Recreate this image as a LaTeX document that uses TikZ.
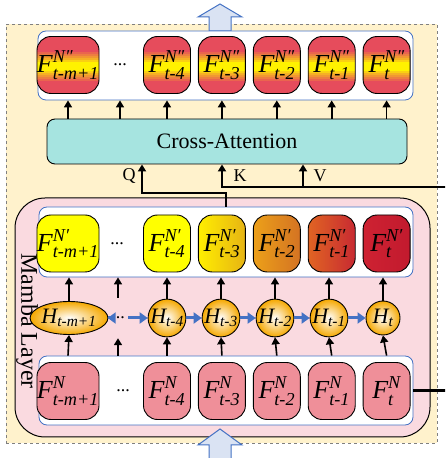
\documentclass[tikz,border=0pt]{standalone}
\usepackage{amsmath}
\usepackage{fontspec}
\setmainfont{Liberation Serif}
\usetikzlibrary{positioning,arrows.meta,shapes.geometric}

\definecolor{outerbg}{RGB}{255,242,204}
\definecolor{mambabg}{RGB}{250,218,224}
\definecolor{boxblue}{RGB}{68,114,196}
\definecolor{arrbg}{RGB}{218,227,243}
\definecolor{attn}{RGB}{166,228,224}
\definecolor{fin}{RGB}{239,143,153}
\definecolor{fred}{RGB}{230,76,92}
\definecolor{fyel}{RGB}{255,242,0}
\definecolor{ylw}{RGB}{255,255,0}
\definecolor{hor}{RGB}{245,168,0}

% one horizontal strip inside a node, measured down from its top
\newcommand{\band}[3]{\fill[#1,sharp corners] ([yshift=-#2pt]path picture bounding box.north west)
  rectangle ([yshift=-#3pt]path picture bounding box.north east);}
\newcommand{\feat}[2]{$\text{\itshape F}^{\text{\itshape #1}}_{\text{\itshape #2}}$}
\newcommand{\hid}[1]{$\text{\itshape H}_{\text{\itshape #1}}$}

\begin{document}
\begin{tikzpicture}[
  x=1pt, y=1pt, >={Triangle[length=7pt,width=8pt]},
  feat/.style={draw,line width=0.9pt,rounded corners=14pt,minimum width=47pt,
    minimum height=57pt,inner sep=0pt,font=\fontsize{26}{26}\selectfont},
  fpp/.style={feat,fill=fred,path picture={
    \band{fred!85!fyel}{16}{18} \band{fred!70!fyel}{18}{20}
    \band{fred!55!fyel}{20}{22} \band{fred!40!fyel}{22}{24}
    \band{fred!20!fyel}{24}{26} \band{fyel}{26}{35}
    \band{fred!20!fyel}{35}{37} \band{fred!40!fyel}{37}{39}
    \band{fred!55!fyel}{39}{41} \band{fred!70!fyel}{41}{43}
    \band{fred!85!fyel}{43}{45}}},
  fin/.style={feat,fill=fin},
  row/.style={draw=boxblue,fill=white,rounded corners=8pt,line width=0.8pt},
  hid/.style={draw,line width=0.9pt,circle,minimum size=34pt,inner sep=0pt,
    inner color=white,outer color=hor,font=\fontsize{22}{22}\selectfont},
  dotnode/.style={font=\fontsize{18}{18}\selectfont},
  up/.style={->,line width=1.6pt},
  flow/.style={-{Triangle[length=8pt,width=11pt]},draw=boxblue,line width=3pt},
  bus/.style={->,line width=2.4pt},
  bigarr/.style={draw=boxblue,fill=arrbg,line width=1pt},
  qkv/.style={font=\fontsize{18}{18}\selectfont}
]
\useasboundingbox (0,0) rectangle (445,458);
\clip (0,0) rectangle (445,458);

% Outer frame
\node[draw=gray,dashed,fill=outerbg,line width=0.8pt,minimum width=431pt,
      minimum height=419pt,inner sep=0pt] (frame) at (221.5,224.5) {};
\draw[bigarr] (209,427) -- (209,441) -- (198,441) -- (220,454) -- (242,441)
      -- (231,441) -- (231,427) -- cycle;

% Output row
\node[row,minimum width=375pt,minimum height=69pt] (top) at (225.5,392.5) {};
\node[fpp] (fpp1) at (68,393) {\feat{N″}{t-m+1}};
\node[dotnode] (dpp) at (120,393) {...};
\node[fpp] (fpp4) at (167,393) {\feat{N″}{t-4}};
\node[fpp, right=7pt of fpp4] (fpp3) {\feat{N″}{t-3}};
\node[fpp, right=7pt of fpp3] (fpp2) {\feat{N″}{t-2}};
\node[fpp, right=7pt of fpp2] (fppa) {\feat{N″}{t-1}};
\node[fpp, right=7pt of fppa] (fpp0) {\feat{N″}{t}};

% Cross-attention
\node[draw,fill=attn,rounded corners=8pt,line width=0.9pt,minimum width=360pt,
      minimum height=45pt,font=\fontsize{22}{22}\selectfont] (ca) at (227,316.5)
      {Cross-Attention};
\draw[up] (fpp1 |- ca.north) -- (fpp1 |- top.south);
\draw[up] (dpp |- ca.north) -- (dpp |- top.south);
\draw[up] (fpp4 |- ca.north) -- (fpp4 |- top.south);
\draw[up] (fpp3 |- ca.north) -- (fpp3 |- top.south);
\draw[up] (fpp2 |- ca.north) -- (fpp2 |- top.south);
\draw[up] (fppa |- ca.north) -- (fppa |- top.south);
\draw[up] (fpp0 |- ca.north) -- (fpp0 |- top.south);

% Mamba layer
\node[draw,fill=mambabg,rounded corners=30pt,line width=1pt,minimum width=415pt,
      minimum height=239pt] (mamba) at (222.5,140.5) {};
\node[rotate=-90,font=\fontsize{24}{24}\selectfont] (mlabel) at (27,137) {Mamba Layer};
\node[row,minimum width=374pt,minimum height=70pt] (mtop) at (226,216) {};
\node[row,minimum width=374pt,minimum height=69pt] (inbox) at (226,67.5) {};

% Mamba outputs
\node[feat,fill=ylw] (fp1) at (68,214.5) {\feat{N′}{t-m+1}};
\node[dotnode] (dp) at (117,214.5) {...};
\node[feat,fill=ylw] (fp4) at (167,214.5) {\feat{N′}{t-4}};
\node[feat,left color={rgb,255:red,255;green,238;blue,0},
      right color={rgb,255:red,230;green,180;blue,20},right=7pt of fp4] (fp3) {\feat{N′}{t-3}};
\node[feat,left color={rgb,255:red,236;green,160;blue,25},
      right color={rgb,255:red,212;green,115;blue,35},right=7pt of fp3] (fp2) {\feat{N′}{t-2}};
\node[feat,left color={rgb,255:red,224;green,100;blue,35},
      right color={rgb,255:red,200;green,42;blue,50},right=7pt of fp2] (fpa) {\feat{N′}{t-1}};
\node[feat,left color={rgb,255:red,206;green,34;blue,50},
      right color={rgb,255:red,194;green,26;blue,46},right=7pt of fpa] (fp0) {\feat{N′}{t}};

% Hidden states
\node[hid,ellipse,minimum width=56pt,minimum height=33pt] (h1) at (69,140) {\hid{t-m+1}};
\node[dotnode,minimum height=40pt] (hd) at (118,140) {...};
\node[hid] (h4) at (167,140) {\hid{t-4}};
\node[hid] (h3) at (221,140) {\hid{t-3}};
\node[hid] (h2) at (275,140) {\hid{t-2}};
\node[hid] (ha) at (329,140) {\hid{t-1}};
\node[hid] (h0) at (383,140) {\hid{t}};
\draw[flow] (h1) -- (hd);
\draw[flow] (hd) -- (h4);
\draw[flow] (h4) -- (h3);
\draw[flow] (h3) -- (h2);
\draw[flow] (h2) -- (ha);
\draw[flow] (ha) -- (h0);

% Mamba inputs
\node[fin] (f1) at (68,67) {\feat{N}{t-m+1}};
\node[dotnode] (df) at (123,67) {...};
\node[fin] (f4) at (167,67) {\feat{N}{t-4}};
\node[fin, right=7pt of f4] (f3) {\feat{N}{t-3}};
\node[fin, right=7pt of f3] (f2) {\feat{N}{t-2}};
\node[fin, right=7pt of f2] (fa) {\feat{N}{t-1}};
\node[fin, right=7pt of fa] (f0) {\feat{N}{t}};

\draw[up] (h1.north) -- (h1 |- mtop.south);
\draw[up] (hd.north) -- (hd |- mtop.south);
\draw[up] (h4.north) -- (h4 |- mtop.south);
\draw[up] (h3.north) -- (h3 |- mtop.south);
\draw[up] (h2.north) -- (h2 |- mtop.south);
\draw[up] (ha.north) -- (ha |- mtop.south);
\draw[up] (h0.north) -- (h0 |- mtop.south);
\draw[up] (f1 |- inbox.north) -- (h1.south);
\draw[up] (hd |- inbox.north) -- (hd.south);
\draw[up] (f4 |- inbox.north) -- (h4.south);
\draw[up] (f3 |- inbox.north) -- (h3.south);
\draw[up] (f2 |- inbox.north) -- (h2.south);
\draw[up] (fa |- inbox.north) -- (ha.south);
\draw[up] (f0 |- inbox.north) -- (h0.south);

% Q, K, V
\coordinate (qbus) at (142,265);
\coordinate (kbus) at (222,271);
\coordinate (vbus) at (303,271);
\draw[bus] (mtop.north) |- (qbus) -- (qbus |- ca.south);
\draw[bus] (inbox.east) -- ++(40,0) |- (kbus) -- (kbus |- ca.south);
\draw[bus] (vbus) -- (vbus |- ca.south);
\node[qkv] (qlab) at (129,282) {Q};
\node[qkv] (klab) at (240,282) {K};
\node[qkv] (vlab) at (320,282) {V};

% Input arrow
\draw[bigarr] (209,-4) -- (209,13) -- (198,13) -- (220,29) -- (242,13)
      -- (231,13) -- (231,-4) -- cycle;
\end{tikzpicture}
\end{document}
